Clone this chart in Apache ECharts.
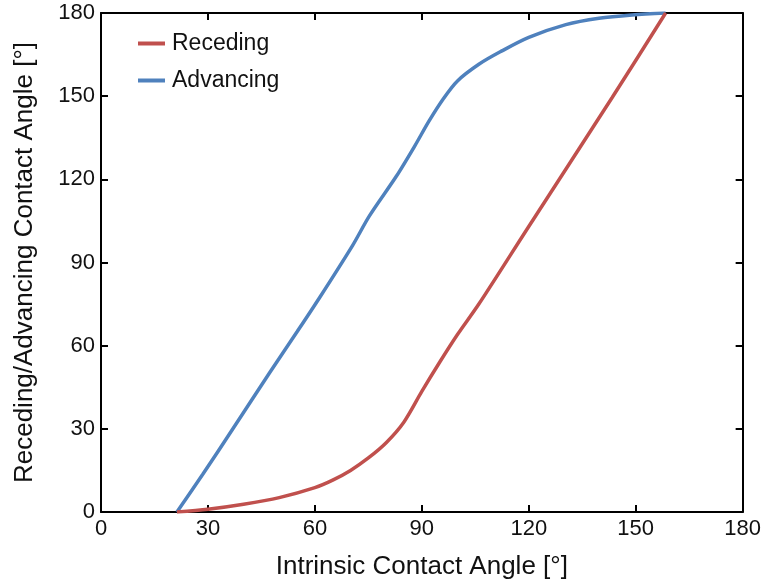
<!DOCTYPE html>
<html>
<head>
<meta charset="utf-8">
<script src="https://cdn.jsdelivr.net/npm/echarts@6/dist/echarts.min.js"></script>
<style>html,body{margin:0;padding:0;background:#fff;}#c{width:764px;height:585px;}</style>
</head>
<body>
<div id="c"></div>
<script>
var xTicks = [0, 30, 60, 90, 120, 150, 180];
var yTicks = [0, 30, 60, 90, 120, 150, 180];
var recedingX = [21.3, 30, 40, 50, 60, 65, 70, 75, 80, 85, 90, 95, 100, 106, 120, 143.4, 158.4];
var recedingY = [0, 1, 2.8, 5.2, 8.8, 11.5, 15, 19.5, 25, 32.5, 43.5, 54, 64, 75, 103, 149.5, 180];
var advancingX = [21.3, 28.6, 37, 47.3, 55, 61.3, 70.6, 75.3, 82.8, 88, 92, 96, 100, 106, 112, 120, 130.4, 139.7, 149, 158.4];
var advancingY = [0, 13.7, 30, 50.2, 65, 77.3, 96.2, 106.8, 121, 132, 141, 149, 155.5, 161.5, 166, 171.2, 175.8, 178.1, 179.3, 180];

function pairs(xs, ys) { return xs.map(function (x, i) { return [x, ys[i]]; }); }

var FONT = "'Liberation Sans', Arial, sans-serif";
var chart = echarts.init(document.getElementById('c'), null, {renderer: 'canvas'});
var axisLine = {show: true, onZero: false, lineStyle: {color: '#000', width: 2}};
var tick = {show: true, inside: true, length: 7, lineStyle: {color: '#000', width: 2}};
chart.setOption({
  animation: false,
  backgroundColor: '#fff',
  textStyle: {fontFamily: FONT},
  grid: {left: 101, right: 20, top: 13, bottom: 63, containLabel: false},
  legend: {
    orient: 'vertical', left: 133, top: 27, itemGap: 14,
    itemWidth: 27, itemHeight: 4, icon: 'rect',
    textStyle: {fontFamily: FONT, fontSize: 23, color: '#111', padding: [0, 0, 0, 2]},
    data: ['Receding', 'Advancing']
  },
  xAxis: [{
    type: 'value', min: 0, max: 180, interval: 30, position: 'bottom',
    name: 'Intrinsic Contact Angle [°]', nameLocation: 'middle', nameGap: 42,
    nameTextStyle: {fontFamily: FONT, fontSize: 26, color: '#111'},
    axisLine: axisLine, axisTick: tick,
    axisLabel: {fontFamily: FONT, fontSize: 22, color: '#111', margin: 6,
      formatter: function (v) { return xTicks.indexOf(v) >= 0 ? String(v) : ''; }},
    splitLine: {show: false}
  }, {
    type: 'value', min: 0, max: 180, interval: 30, position: 'top',
    axisLine: axisLine, axisTick: tick, axisLabel: {show: false}, splitLine: {show: false}
  }],
  yAxis: [{
    type: 'value', min: 0, max: 180, interval: 30, position: 'left',
    name: 'Receding/Advancing Contact Angle [°]', nameLocation: 'middle', nameGap: 63,
    nameTextStyle: {fontFamily: FONT, fontSize: 26, color: '#111'},
    axisLine: axisLine, axisTick: tick,
    axisLabel: {fontFamily: FONT, fontSize: 22, color: '#111', margin: 6,
      formatter: function (v) { return yTicks.indexOf(v) >= 0 ? String(v) : ''; }},
    splitLine: {show: false}
  }, {
    type: 'value', min: 0, max: 180, interval: 30, position: 'right',
    axisLine: axisLine, axisTick: tick, axisLabel: {show: false}, splitLine: {show: false}
  }],
  series: [{
    name: 'Receding', type: 'line', xAxisIndex: 0, yAxisIndex: 0,
    data: pairs(recedingX, recedingY), smooth: 0.3, showSymbol: false,
    lineStyle: {color: '#C0504D', width: 3.5}, itemStyle: {color: '#C0504D'}, z: 3
  }, {
    name: 'Advancing', type: 'line', xAxisIndex: 0, yAxisIndex: 0,
    data: pairs(advancingX, advancingY), smooth: 0.3, showSymbol: false,
    lineStyle: {color: '#4F81BD', width: 3.5}, itemStyle: {color: '#4F81BD'}, z: 2
  }]
});
</script>
</body>
</html>
